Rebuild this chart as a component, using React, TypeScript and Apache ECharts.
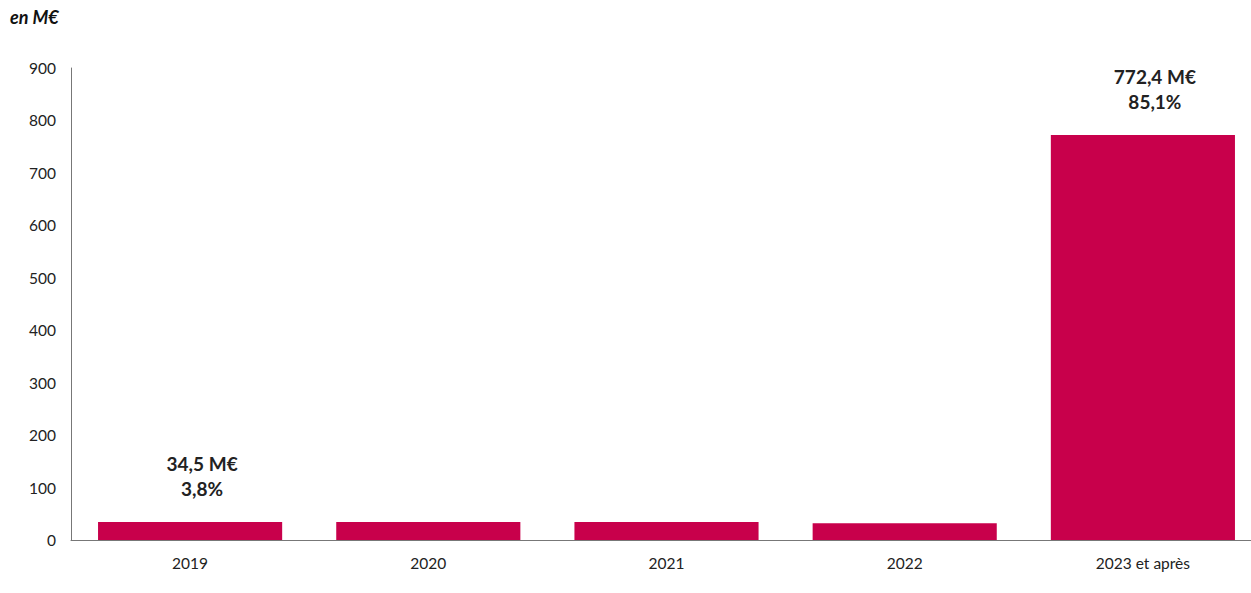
import React, { useEffect, useRef } from "react";
import * as echarts from "echarts";

const categories = ["2019", "2020", "2021", "2022", "2023 et après"];
const values = [34.5, 34.3, 34.3, 32.1, 772.4];
const amountLabels = ["34,5 M€", "", "", "", "772,4 M€"];
const shareLabels = ["3,8%", "", "", "", "85,1%"];
const yTicks = [0, 100, 200, 300, 400, 500, 600, 700, 800, 900];

const FONT = "Lato, 'Open Sans', sans-serif";
const BAR = "#C8004B";

export default function App() {
  const ref = useRef<HTMLDivElement>(null);
  useEffect(() => {
    document.body.style.margin = "0";
    document.body.style.overflow = "hidden";
    if (!ref.current) return;
    const chart = echarts.init(ref.current, undefined, { renderer: "svg" });
    chart.setOption({
      animation: false,
      backgroundColor: "#ffffff",
      graphic: [
        {
          type: "text",
          left: 10,
          top: 8,
          style: {
            text: "en M€",
            font: `italic bold 18px ${FONT}`,
            fill: "#111",
          },
        },
      ],
      grid: { left: 71, right: 0, top: 68, bottom: 53, containLabel: false },
      xAxis: {
        type: "category",
        data: categories,
        axisLine: { show: true, lineStyle: { color: "#777", width: 1 } },
        axisTick: { show: false },
        axisLabel: { color: "#222", fontSize: 15.5, fontFamily: FONT, margin: 15 },
      },
      yAxis: {
        type: "value",
        min: yTicks[0],
        max: yTicks[yTicks.length - 1],
        interval: 100,
        axisLine: { show: true, lineStyle: { color: "#777", width: 1 } },
        axisTick: { show: false },
        splitLine: { show: false },
        axisLabel: { color: "#222", fontSize: 15.5, fontFamily: FONT, margin: 15 },
      },
      series: [
        {
          type: "bar",
          data: values.map((v, i) => ({
            value: v,
            label: {
              show: amountLabels[i] !== "",
              formatter: () => `${amountLabels[i]}\n${shareLabels[i]}`,
            },
          })),
          barCategoryGap: "22.7%",
          itemStyle: { color: BAR },
          label: {
            position: "top",
            distance: 21,
            offset: [12, 0],
            fontSize: 19,
            fontWeight: "bold",
            fontFamily: FONT,
            color: "#222",
            lineHeight: 25,
            align: "center",
          },
        },
      ],
    });
    return () => chart.dispose();
  }, []);
  return (
    <div style={{ width: 1251, height: 593, overflow: "hidden" }}>
      <div ref={ref} style={{ width: 1262, height: 593 }} />
    </div>
  );
}
